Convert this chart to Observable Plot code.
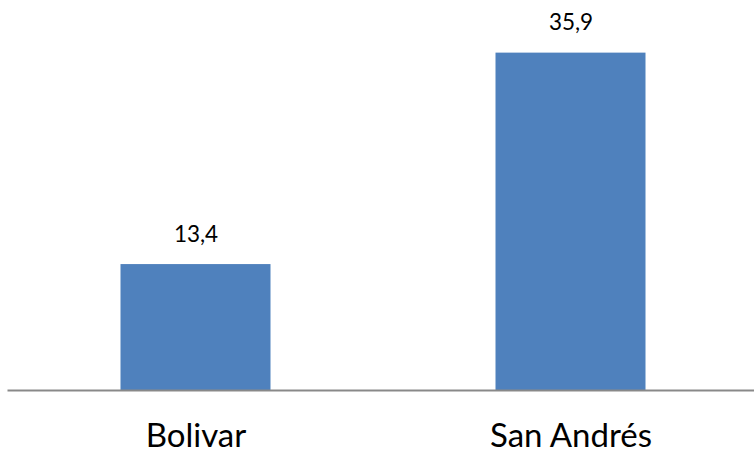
<!DOCTYPE html>
<html>
<head>
<meta charset="utf-8">
<script src="https://cdn.jsdelivr.net/npm/d3@7"></script>
<script src="https://cdn.jsdelivr.net/npm/@observablehq/plot@0.6"></script>
<style>
  html, body { margin: 0; padding: 0; background: #fff; }
  #chart svg { display: block; }
</style>
</head>
<body>
<div id="chart"></div>
<script>
const categories = ["Bolivar", "San Andrés"];
const values = [13.4, 35.9];
const valueLabels = ["13,4", "35,9"];

const data = categories.map((c, i) => ({category: c, value: values[i], label: valueLabels[i]}));

const chart = Plot.plot({
  width: 754,
  height: 454,
  marginLeft: 7.5,
  marginRight: -3.5,
  marginTop: 0,
  marginBottom: 64,
  style: {fontFamily: "Lato, 'Open Sans', sans-serif", background: "#fff", color: "#000", overflow: "hidden"},
  x: {domain: categories, padding: 0, label: null},
  y: {domain: [0, 41.5], axis: null},
  marks: [
    Plot.barY(data, {x: "category", y: "value", fill: "#4F81BD", insetLeft: 112.5, insetRight: 112.5}),
    Plot.ruleY([0], {stroke: "#898989", strokeWidth: 2}),
    Plot.text(data, {x: "category", y: "value", text: "label", dy: -30, fontSize: 22.5, fill: "#000"}),
    Plot.axisX({tickSize: 0, tickPadding: 33, fontSize: 33, fill: "#000", lineAnchor: "top", label: null})
  ]
});
document.getElementById("chart").appendChild(chart);
</script>
</body>
</html>
